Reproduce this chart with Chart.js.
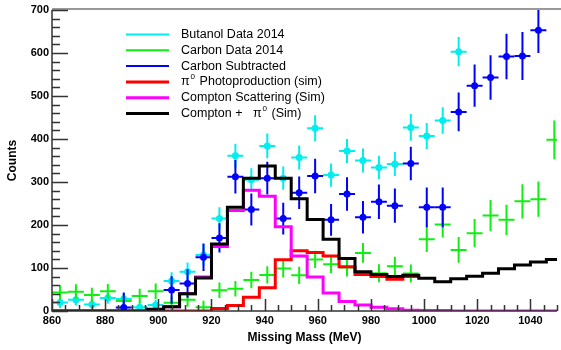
<!DOCTYPE html>
<html>
<head>
<meta charset="utf-8">
<script src="https://cdn.jsdelivr.net/npm/chart.js@4.4.0/dist/chart.umd.min.js"></script>
<style>
  html, body { margin: 0; padding: 0; background: #fff; }
  #wrap { width: 561px; height: 350px; }
</style>
</head>
<body>
<div id="wrap"><canvas id="grafico" width="561" height="350"></canvas></div>
<script>
// bin centres of the measured points (MeV)
const centros = [863, 869, 875, 881, 887, 893, 899, 905, 911, 917, 923, 929, 935, 941, 947, 953,
  959, 965, 971, 977, 983, 989, 995, 1001, 1007, 1013, 1019, 1025, 1031, 1037, 1043, 1049];
// bin edges of the simulated histograms (lower edges + last upper edge)
const bordas = [860, 866, 872, 878, 884, 890, 896, 902, 908, 914, 920, 926, 932, 938, 944, 950,
  956, 962, 968, 974, 980, 986, 992, 998, 1004, 1010, 1016, 1022, 1028, 1034, 1040, 1046, 1052];
const meiaLargura = 3;

const butanol = [20, 26, 15, 30, 28, 9, 14, 70, 91, 130, 215, 361, 305, 384, 309, 357,
  425, 316, 372, 350, 334, 342, 427, 407, 443, 603, null, null, null, null, null, null];
const butanolErr = [13, 13, 12, 13, 13, 11, 12, 20, 22, 25, 26, 28, 27, 29, 27, 28,
  30, 27, 28, 28, 27, 28, 31, 30, 31, 34, null, null, null, null, null, null];

const carbono = [43, 45, 37, 46, 23, 35, 46, 19, 26, 9, 48, 52, 72, 84, 99, 83,
  120, 109, 101, 135, 88, 104, 87, 167, 201, 142, 181, 222, 212, 255, 260, 398];
const carbonoErr = [17, 17, 17, 17, 16, 17, 18, 15, 16, 15, 18, 18, 19, 20, 21, 20,
  20, 21, 21, 23, 21, 22, 21, 30, 30, 30, 33, 36, 35, 40, 41, 45];

const subtraido = [null, null, null, null, 8, null, null, 49, 64, 125, 170, 312, 236, 309, 215, 275,
  314, 212, 272, 218, 254, 245, 343, 241, 241, 463, 524, 543, 592, 593, 653, null];
const subtraidoErr = [null, null, null, null, 35, null, null, 32, 33, 32, 34, 39, 37, 38, 37, 38,
  40, 37, 39, 38, 40, 40, 39, 46, 46, 45, 49, 52, 53, 56, 53, null];

const pi0 = [null, null, null, null, null, null, 0, 0, 0, 0, 6, 13, 32, 54, 119, 140,
  136, 128, 103, 85, 80, 74, 80, null, null, null, null, null, null, null, null, null];
const compton = [0, 0, 0, 0, 0, 0, 3, 10, 40, 79, 150, 234, 281, 267, 196, 128,
  79, 42, 22, 14, 9, 5, 2, 1, 1, 0, 0, 0, 0, 0, 0, 0];
const soma = [0, 0, 0, 0, 0, 0, 4, 10, 40, 77, 156, 241, 309, 337, 309, 261,
  213, 167, 122, 91, 85, 80, 83, 76, 68, 75, 81, 88, 98, 107, 114, 120];

const xTicks = [860, 880, 900, 920, 940, 960, 980, 1000, 1020, 1040];
const yTicks = [0, 100, 200, 300, 400, 500, 600, 700];

function pontos(vals) {
  const pts = [];
  vals.forEach((v, i) => { if (v !== null) pts.push({x: centros[i], y: v}); });
  return pts;
}
function erros(vals, errs) {
  return errs.filter((e, i) => vals[i] !== null);
}
function histo(vals) {
  const pts = [];
  let ultimo = -1;
  vals.forEach((v, i) => { if (v !== null) { pts.push({x: bordas[i], y: v}); ultimo = i; } });
  pts.push({x: bordas[ultimo + 1], y: vals[ultimo]});
  return pts;
}

const fonte = 'Liberation Sans, Arial, Helvetica, sans-serif';

// error bars, drawn before the markers of each dataset
const barrasErro = {
  id: 'barrasErro',
  beforeDatasetDraw(chart, args) {
    const ds = chart.data.datasets[args.index];
    if (!ds.errY) return;
    const {ctx, chartArea: a, scales: {x, y}} = chart;
    ctx.save();
    ctx.beginPath();
    ctx.rect(a.left, a.top, a.right - a.left, a.bottom - a.top);
    ctx.clip();
    ctx.strokeStyle = ds.borderColor;
    ctx.lineWidth = 2;
    ds.data.forEach((p, i) => {
      const e = ds.errY[i];
      const px = x.getPixelForValue(p.x), py = y.getPixelForValue(p.y);
      ctx.beginPath();
      ctx.moveTo(px, y.getPixelForValue(p.y - e));
      ctx.lineTo(px, y.getPixelForValue(p.y + e));
      ctx.moveTo(x.getPixelForValue(p.x - meiaLargura), py);
      ctx.lineTo(x.getPixelForValue(p.x + meiaLargura), py);
      ctx.stroke();
    });
    ctx.restore();
  }
};

// ROOT style frame with ticks pointing inwards
const moldura = {
  id: 'moldura',
  afterDatasetsDraw(chart) {
    const {ctx, chartArea: a, scales: {x, y}} = chart;
    ctx.save();
    ctx.strokeStyle = '#999';
    ctx.lineWidth = 2;
    ctx.beginPath();
    ctx.moveTo(a.left, a.top - 1);
    ctx.lineTo(chart.width, a.top - 1);
    ctx.stroke();
    ctx.strokeStyle = '#333';
    ctx.lineWidth = 1.5;
    ctx.beginPath();
    ctx.moveTo(a.left, a.top);
    ctx.lineTo(a.left, a.bottom);
    ctx.lineTo(a.right, a.bottom);
    ctx.stroke();
    ctx.beginPath();
    for (let v = 0; v <= 700; v += 20) {
      const py = Math.round(y.getPixelForValue(v)) + 0.5;
      ctx.moveTo(a.left, py);
      ctx.lineTo(a.left + (v % 100 === 0 ? 16 : 8), py);
    }
    for (let v = 860; v <= 1050; v += 5) {
      const px = Math.round(x.getPixelForValue(v)) + 0.5;
      ctx.moveTo(px, a.bottom);
      ctx.lineTo(px, a.bottom - (v % 20 === 0 ? 12 : 6));
    }
    ctx.stroke();
    ctx.restore();
  }
};

function textoRico(ctx, txt, x, y, tam) {
  for (const ch of txt) {
    if (ch === '⁰') {
      ctx.font = (tam * 0.65) + 'px ' + fonte;
      ctx.fillText('0', x + 1, y - tam * 0.38);
      x += ctx.measureText('0').width + 2;
    } else {
      ctx.font = tam + 'px ' + fonte;
      ctx.fillText(ch, x, y);
      x += ctx.measureText(ch).width;
    }
  }
}

const legenda = {
  id: 'legenda',
  afterDraw(chart) {
    const ctx = chart.ctx;
    ctx.save();
    ctx.textBaseline = 'middle';
    ctx.fillStyle = '#000';
    chart.data.datasets
      .slice()
      .sort((p, q) => p.linha - q.linha)
      .forEach((ds, k) => {
        const yy = 34.5 + k * 15.8;
        ctx.strokeStyle = ds.borderColor;
        ctx.lineWidth = ds.type === 'line' ? 3 : 2;
        ctx.beginPath();
        ctx.moveTo(126, yy);
        ctx.lineTo(169, yy);
        ctx.stroke();
        ctx.fillStyle = '#000';
        textoRico(ctx, ds.label, 181, yy, 12.5);
      });
    ctx.restore();
  }
};

const ctx = document.getElementById('grafico');

new Chart(ctx, {
  type: 'scatter',
  data: {
    datasets: [
      {
        type: 'line', label: 'Compton +   π⁰ (Sim)', linha: 6, order: 1,
        data: histo(soma), stepped: true, borderColor: '#000', borderWidth: 3,
        pointRadius: 0, fill: false, borderJoinStyle: 'miter', borderCapStyle: 'butt'
      },
      {
        type: 'line', label: 'Compton Scattering (Sim)', linha: 5, order: 2,
        data: histo(compton), stepped: true, borderColor: '#ff00ff', borderWidth: 3,
        pointRadius: 0, fill: false, borderJoinStyle: 'miter', borderCapStyle: 'butt'
      },
      {
        type: 'line', label: 'π⁰ Photoproduction (sim)', linha: 4, order: 3,
        data: histo(pi0), stepped: true, borderColor: '#ff0000', borderWidth: 3,
        pointRadius: 0, fill: false, borderJoinStyle: 'miter', borderCapStyle: 'butt'
      },
      {
        label: 'Carbon Subtracted', linha: 3, order: 4,
        data: pontos(subtraido), errY: erros(subtraido, subtraidoErr),
        borderColor: '#0000ff', backgroundColor: '#0000ff', pointRadius: 3.5, pointBorderWidth: 0
      },
      {
        label: 'Carbon Data 2014', linha: 2, order: 5,
        data: pontos(carbono), errY: erros(carbono, carbonoErr),
        borderColor: '#11ee11', backgroundColor: '#11ee11', pointRadius: 0
      },
      {
        label: 'Butanol Data 2014', linha: 1, order: 6,
        data: pontos(butanol), errY: erros(butanol, butanolErr),
        borderColor: '#00eeee', backgroundColor: '#00eeee', pointRadius: 3.5, pointBorderWidth: 0
      }
    ]
  },
  options: {
    responsive: false,
    animation: false,
    events: [],
    layout: { padding: { top: 10, right: 2, left: 0, bottom: 0 } },
    plugins: { legend: { display: false }, tooltip: { enabled: false } },
    scales: {
      x: {
        type: 'linear', min: 860, max: 1050,
        afterBuildTicks: (s) => { s.ticks = xTicks.map(v => ({value: v})); },
        afterFit: (s) => { s.height = 39; },
        grid: { display: false, drawTicks: false },
        border: { display: false },
        ticks: {
          autoSkip: false, maxRotation: 0, padding: 3, color: '#000',
          font: { family: fonte, size: 11, weight: 'bold' },
          callback: (v) => String(v)
        },
        title: {
          display: true, text: 'Missing Mass (MeV)', color: '#000',
          font: { family: fonte, size: 12, weight: 'bold' },
          padding: { top: 0, bottom: 5 }
        }
      },
      y: {
        min: 0, max: 700,
        afterBuildTicks: (s) => { s.ticks = yTicks.map(v => ({value: v})); },
        afterFit: (s) => { s.width = 52; },
        grid: { display: false, drawTicks: false },
        border: { display: false },
        ticks: {
          padding: 3, color: '#000',
          font: { family: fonte, size: 11, weight: 'bold' },
          callback: (v) => String(v)
        },
        title: {
          display: true, text: 'Counts', color: '#000',
          font: { family: fonte, size: 12, weight: 'bold' },
          padding: { top: 5, bottom: 0 }
        }
      }
    }
  },
  plugins: [barrasErro, moldura, legenda]
});
</script>
</body>
</html>
